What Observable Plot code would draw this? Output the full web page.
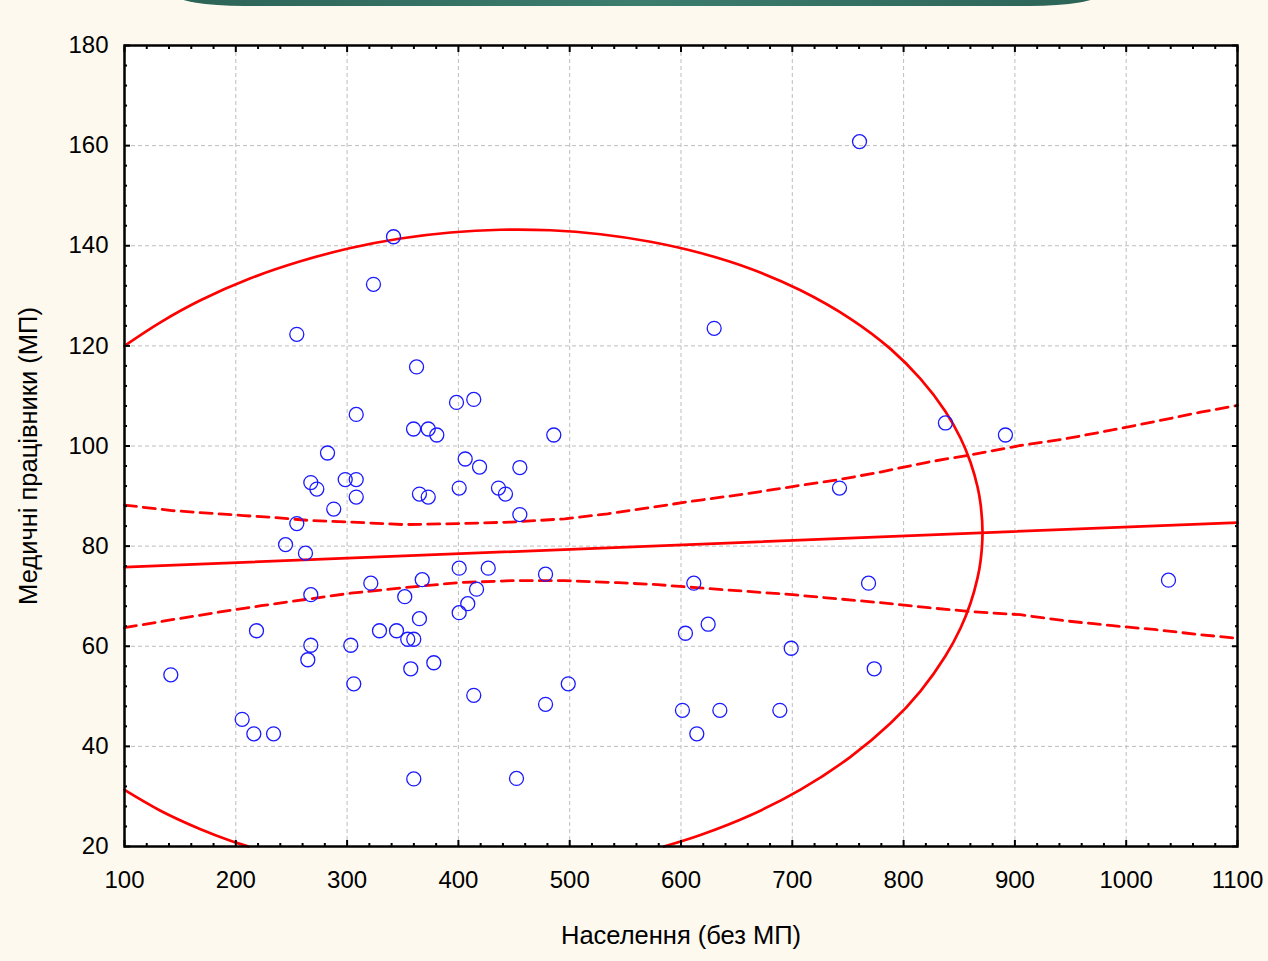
<!DOCTYPE html>
<html><head><meta charset="utf-8">
<script src="https://cdn.jsdelivr.net/npm/d3@7"></script>
<script src="https://cdn.jsdelivr.net/npm/@observablehq/plot@0.6"></script>
<style>
html,body{margin:0;padding:0;background:#fdf9ee;overflow:hidden;width:1268px;height:961px;}
#chart{position:absolute;left:0;top:0;}
#band{position:absolute;left:174px;top:-20px;width:926px;height:26px;
  border-bottom-left-radius:70px 12px;border-bottom-right-radius:70px 12px;
  background:linear-gradient(90deg,#2c6357,#3c7d6e 50%,#2c6357);}
</style></head><body>
<div id="chart"></div><div id="band"></div>
<script>
// Tick values
const xTicks = [100, 200, 300, 400, 500, 600, 700, 800, 900, 1000, 1100];
const yTicks = [20, 40, 60, 80, 100, 120, 140, 160, 180];
const xMinor = d3.range(100, 1101, 20);
const yMinor = d3.range(20, 181, 4);

// Scatter data: population (without MP) vs medical workers (MP)
const popX = [141.6,205.7,216.2,233.9,218.6,244.7,254.8,254.8,262.6,264.7,
  267.4,267.4,267.4,272.8,282.4,288.0,298.3,303.3,306.0,308.2,
  308.2,308.2,321.3,323.7,329.1,341.7,344.4,351.8,354.5,359.9,
  357.2,359.9,359.7,362.4,365.0,365.0,367.5,372.9,372.9,380.6,
  377.9,398.3,400.7,400.7,400.7,406.1,408.4,413.8,413.8,416.3,
  419.0,426.8,436.0,442.3,452.2,455.2,455.2,478.3,478.3,485.7,
  498.7,601.3,604.0,611.5,614.2,624.4,629.8,634.9,688.8,699.0,
  742.4,760.4,768.5,773.6,837.6,891.5,1038.0];
const medY = [54.3,45.4,42.5,42.5,63.1,80.3,84.5,122.3,78.6,57.3,
  60.2,70.3,92.7,91.4,98.6,87.4,93.3,60.2,52.5,106.3,
  93.3,89.8,72.6,132.3,63.1,141.8,63.1,69.9,61.4,61.4,
  55.5,33.5,103.4,115.8,90.4,65.5,73.3,103.4,89.8,102.2,
  56.7,108.7,91.6,75.6,66.7,97.4,68.5,50.2,109.3,71.4,
  95.8,75.6,91.6,90.4,33.6,86.3,95.7,74.4,48.4,102.2,
  52.5,47.2,62.6,72.6,42.5,64.4,123.5,47.2,47.2,59.6,
  91.6,160.8,72.6,55.5,104.6,102.2,73.2];

// Regression line
const regX = [100, 1100];
const regY = [75.8, 84.7];

// Confidence bands
const upperX = [100,142.6,184.4,206.8,229.3,267.7,303.1,351.2,399.3,447.4,495.6,534.0,575,613.9,657.1,700.2,739.7,779.2,822.4,861.9,905.0,944.5,987.7,1027.2,1066.8,1100];
const upperY = [88.2,87.1,86.45,86.1,85.8,85.1,84.8,84.3,84.5,84.8,85.45,86.45,87.8,89.1,90.4,91.9,93.2,94.8,96.8,98.3,100.1,101.4,103.2,104.95,106.75,108.1];
const lowerX = [100,142.6,184.4,222.8,267.7,303.1,351.2,399.3,447.4,495.6,543.7,578.9,613.9,657.1,700.2,739.7,779.2,822.4,861.9,905.0,944.5,987.7,1027.2,1066.8,1100];
const lowerY = [63.7,65.3,66.8,68.1,69.5,70.6,71.7,72.7,73.1,73.1,72.7,72.3,71.7,71.0,70.3,69.5,68.7,67.7,66.9,66.3,65.1,64.1,63.3,62.3,61.6];

// Ellipse outline, two visible arcs inside the frame
const ellAX = [100,132.3,168.3,213.2,258.1,303.1,348.0,392.9,437.8,482.7,527.7,572.6,617.5,662.4,707.4,752.3,788.2,815.2,837.6,851.1,860.1,866.4,869.1,870.9,869.1,866.4,860.1,851.1,837.6,815.2,788.2,752.3,707.4,662.4,617.5,584.7];
const ellAY = [120.0,124.7,129.1,133.5,136.9,139.55,141.45,142.65,143.2,143.1,142.3,140.8,138.55,135.4,131.1,125.4,119.4,113.4,106.9,101.6,96.75,91.85,88.5,82.75,76.95,73.6,68.6,63.6,58.05,51.05,44.6,37.9,31.35,26.25,22.3,20.0];
const ellBX = [100,132.3,168.3,195.2,211.4];
const ellBY = [31.3,27.15,23.45,21.15,20.0];

const xLabel = "Населення (без МП)";
const yLabel = "Медичні працівники (МП)";

const pts = popX.map((x, i) => ({x, y: medY[i]}));
const reg = regX.map((x, i) => ({x, y: regY[i]}));
const up = upperX.map((x, i) => ({x, y: upperY[i]}));
const lo = lowerX.map((x, i) => ({x, y: lowerY[i]}));
const ell = [
  ...ellAX.map((x, i) => ({x, y: ellAY[i], k: "a"})),
  ...ellBX.map((x, i) => ({x, y: ellBY[i], k: "b"}))
];

const xMinorOnly = xMinor.filter(v => !xTicks.includes(v));
const yMinorOnly = yMinor.filter(v => !yTicks.includes(v));
const blank = () => "";
const tickStyle = {stroke: "black", strokeWidth: 2, label: null, tickFormat: blank};
const font = "'Liberation Sans', Arial, sans-serif";

const chart = Plot.plot({
  width: 1268, height: 961,
  marginLeft: 124, marginRight: 31, marginTop: 45, marginBottom: 115,
  x: {domain: [100, 1100]},
  y: {domain: [20, 180]},
  style: {fontFamily: font, fontSize: "24px", background: "transparent", color: "black", overflow: "visible"},
  marks: [
    Plot.frame({fill: "white", stroke: null}),
    Plot.gridX({ticks: xTicks, stroke: "#bdbdbd", strokeOpacity: 1, strokeWidth: 1, strokeDasharray: "4,3"}),
    Plot.gridY({ticks: yTicks, stroke: "#bdbdbd", strokeOpacity: 1, strokeWidth: 1, strokeDasharray: "4,3"}),
    Plot.line(ell, {x: "x", y: "y", z: "k", stroke: "#ff0000", strokeWidth: 2.7, curve: "catmull-rom"}),
    Plot.line(up, {x: "x", y: "y", stroke: "#ff0000", strokeWidth: 2.8, strokeDasharray: "12,7"}),
    Plot.line(lo, {x: "x", y: "y", stroke: "#ff0000", strokeWidth: 2.8, strokeDasharray: "12,7"}),
    Plot.line(reg, {x: "x", y: "y", stroke: "#ff0000", strokeWidth: 2.7}),
    Plot.dot(pts, {x: "x", y: "y", r: 7, stroke: "#1a1aff", strokeWidth: 1.3, fill: "none"}),
    // tick labels
    Plot.axisX({ticks: xTicks, tickSize: 0, tickPadding: 24, fontSize: 24, tickFormat: d => String(d), label: null}),
    Plot.axisY({ticks: yTicks, tickSize: 0, tickPadding: 16, fontSize: 24, tickFormat: d => String(d), label: null}),
    // axis titles
    Plot.text([xLabel], {text: d => d, frameAnchor: "bottom", dy: 89, fontSize: 25.5, textAnchor: "middle", lineAnchor: "middle"}),
    Plot.text([yLabel], {text: d => d, frameAnchor: "left", rotate: -90, dx: -96, dy: 10, fontSize: 25.5, textAnchor: "middle", lineAnchor: "middle"}),
    // inward ticks
    Plot.axisX({anchor: "bottom", ticks: xTicks, tickSize: -6, ...tickStyle}),
    Plot.axisX({anchor: "bottom", ticks: xMinorOnly, tickSize: -3, ...tickStyle}),
    Plot.axisX({anchor: "top", ticks: xTicks, tickSize: -6, ...tickStyle}),
    Plot.axisX({anchor: "top", ticks: xMinorOnly, tickSize: -3, ...tickStyle}),
    Plot.axisY({anchor: "left", ticks: yTicks, tickSize: -6, ...tickStyle}),
    Plot.axisY({anchor: "left", ticks: yMinorOnly, tickSize: -3, ...tickStyle}),
    Plot.axisY({anchor: "right", ticks: yTicks, tickSize: -6, ...tickStyle}),
    Plot.axisY({anchor: "right", ticks: yMinorOnly, tickSize: -3, ...tickStyle}),
    Plot.frame({stroke: "black", strokeWidth: 2.5})
  ]
});
document.getElementById("chart").appendChild(chart);
</script>
</body></html>
